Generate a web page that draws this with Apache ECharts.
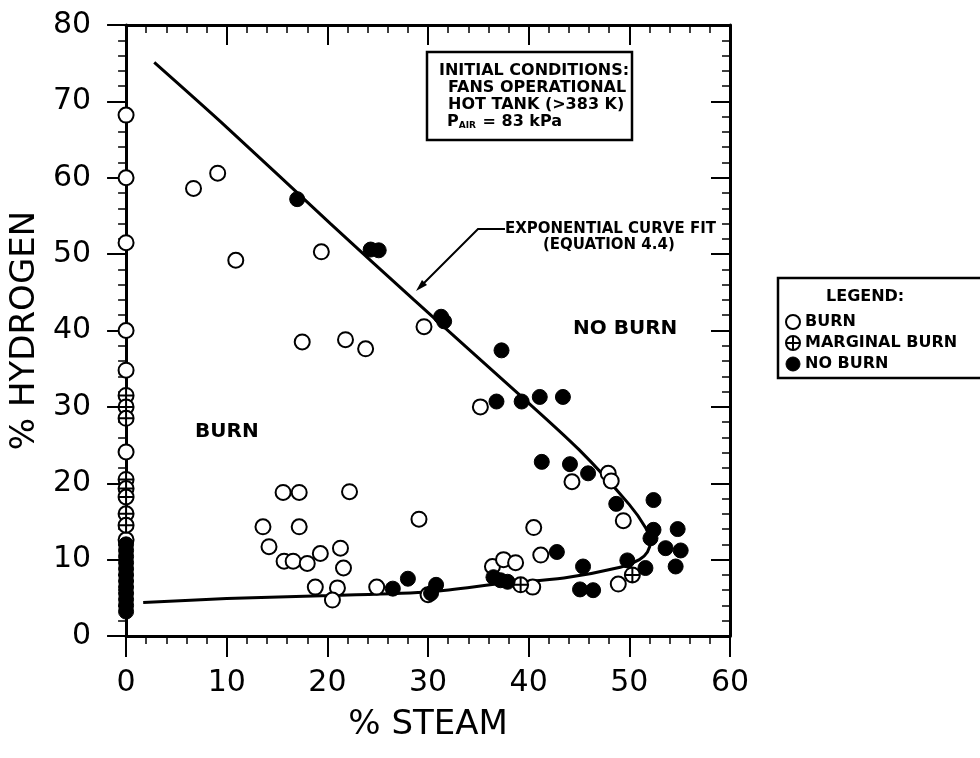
<!DOCTYPE html>
<html>
<head>
<meta charset="utf-8">
<script src="https://cdn.jsdelivr.net/npm/echarts@6/dist/echarts.min.js"></script>
<style>html,body{margin:0;padding:0;background:#fff;}#c{width:980px;height:758px;}</style>
</head>
<body>
<div id="c"></div>
<script>
// ---- data (x = % steam, y = % hydrogen) ----
var xTicks = [0, 10, 20, 30, 40, 50, 60];
var yTicks = [0, 10, 20, 30, 40, 50, 60, 70, 80];

var burnAxisY = [68.2, 60, 51.5, 40, 34.8, 24.1, 12.6];
var marginalAxisY = [31.5, 30, 28.5, 20.5, 19.3, 18.2, 16, 14.5];
var noBurnAxisY = [12, 11.2, 10.4, 9.6, 8.8, 8, 7.2, 6.4, 5.6, 4.8, 4, 3.2];

var burnPts = [[6.7,58.6],[9.1,60.6],[10.9,49.2],[19.4,50.3],[17.5,38.5],[21.8,38.8],[23.8,37.6],
  [29.6,40.5],[35.2,30.0],[15.6,18.8],[17.2,18.8],[22.2,18.9],[13.6,14.3],[17.2,14.3],[14.2,11.7],
  [15.7,9.8],[16.6,9.8],[18.0,9.5],[19.3,10.8],[21.3,11.5],[21.6,8.9],[18.8,6.4],[21.0,6.3],
  [20.5,4.7],[24.9,6.4],[29.1,15.3],[30.0,5.4],[36.4,9.1],[37.5,10.0],[38.7,9.6],[40.4,6.4],
  [40.5,14.2],[41.2,10.6],[44.3,20.2],[47.9,21.3],[48.2,20.3],[49.4,15.1],[48.9,6.8]];
var marginalPts = [[39.2,6.7],[50.3,8.0]];
var noBurnPts = [[17.0,57.2],[24.3,50.6],[25.1,50.5],[31.3,41.8],[31.6,41.2],[37.3,37.4],[36.8,30.7],
  [39.3,30.7],[41.1,31.3],[43.4,31.3],[41.3,22.8],[44.1,22.5],[45.9,21.3],[48.7,17.3],[52.4,17.8],
  [52.4,13.9],[52.1,12.8],[54.8,14.0],[53.6,11.5],[55.1,11.2],[54.6,9.1],[51.6,8.9],[49.8,9.9],
  [45.4,9.1],[45.1,6.1],[46.4,6.0],[42.8,11.0],[37.2,7.3],[36.5,7.7],[37.9,7.1],[30.8,6.7],
  [30.3,5.6],[28.0,7.5],[26.5,6.2]];

var fitCurve = [[2.8,75.1],[10,66.6],[20.3,54.0],[28.6,44.0],[38.9,31.8],[45,24.4],[50,17.2],
  [51.6,14.2],[52.1,12.4],[51.8,11.0],[51.0,10.0],[49.1,9.0],[43.5,7.6],[37.5,6.9],[30.3,5.8],
  [20.3,5.3],[10,4.9],[1.7,4.4]];

function atZero(arr){ return arr.map(function(v){ return [0, v]; }); }

var FONT = 'DejaVu Sans';
var chart = echarts.init(document.getElementById('c'), null, {renderer:'canvas'});

var crossPath = 'path://M10,0A10,10,0,1,1,-10,0A10,10,0,1,1,10,0ZM-10,0L10,0M0,-10L0,10';
var openStyle = {color:'#fff', borderColor:'#000', borderWidth:2, opacity:1};
var fillStyle = {color:'#000', borderColor:'#000', borderWidth:1, opacity:1};

function axisCommon(extra){
  var base = {
    type:'value', min:0,
    axisLine:{show:true, onZero:false, lineStyle:{color:'#000', width:3}},
    splitLine:{show:false},
    minorTick:{show:true, splitNumber:5, length:8, lineStyle:{color:'#000', width:1.5}},
    axisTick:{show:true, length:20, lineStyle:{color:'#000', width:2}}
  };
  for (var k in extra) base[k] = extra[k];
  return base;
}

var option = {
  backgroundColor:'#fff',
  animation:false,
  grid:{left:125, right:250, top:25, bottom:122},
  xAxis:[
    axisCommon({position:'bottom', max:60, interval:10,
      axisTick:{show:true, length:21, lineStyle:{color:'#000', width:2}},
      axisLabel:{fontFamily:FONT, fontSize:30, color:'#000', margin:32},
      name:'% STEAM', nameLocation:'middle', nameGap:72,
      nameTextStyle:{fontFamily:FONT, fontSize:34, color:'#000'}}),
    axisCommon({position:'top', max:60, interval:10,
      axisTick:{show:true, inside:true, length:20, lineStyle:{color:'#000', width:2}},
      minorTick:{show:true, splitNumber:5, length:8, lineStyle:{color:'#000', width:1.5}},
      axisLabel:{show:false}})
  ],
  yAxis:[
    axisCommon({position:'left', max:80, interval:10,
      axisTick:{show:true, length:19, lineStyle:{color:'#000', width:2}},
      axisLabel:{fontFamily:FONT, fontSize:30, color:'#000', margin:35},
      name:'% HYDROGEN', nameLocation:'middle', nameGap:76,
      nameTextStyle:{fontFamily:FONT, fontSize:34, color:'#000'}}),
    axisCommon({position:'right', max:80, interval:10,
      axisTick:{show:true, inside:true, length:19, lineStyle:{color:'#000', width:2}},
      axisLabel:{show:false}})
  ],
  legend:{
    orient:'vertical', left:780, top:309, itemWidth:14, itemHeight:14, itemGap:5,
    textStyle:{fontFamily:FONT, fontSize:16, fontWeight:'bold', color:'#000'},
    data:[
      {name:'BURN', icon:'circle', itemStyle:openStyle},
      {name:'MARGINAL BURN', icon:crossPath, itemStyle:openStyle},
      {name:'NO BURN', icon:'circle', itemStyle:fillStyle}
    ]
  },
  series:[
    {type:'line', name:'fit', data:fitCurve, showSymbol:false, symbol:'none', smooth:0.3,
      lineStyle:{color:'#000', width:3}, silent:true, z:1},
    {type:'scatter', name:'BURN', data:atZero(burnAxisY).concat(burnPts), symbol:'circle',
      symbolSize:15, itemStyle:openStyle, emphasis:{disabled:true}, z:3},
    {type:'scatter', name:'MARGINAL BURN', data:atZero(marginalAxisY).concat(marginalPts), symbol:crossPath,
      symbolSize:15, itemStyle:openStyle, emphasis:{disabled:true}, z:4},
    {type:'scatter', name:'NO BURN', data:atZero(noBurnAxisY).concat(noBurnPts), symbol:'circle',
      symbolSize:15, itemStyle:fillStyle, emphasis:{disabled:true}, z:5}
  ],
  graphic:[
    {type:'rect', shape:{x:427, y:52, width:205, height:88}, style:{fill:'#fff', stroke:'#000', lineWidth:2.5}, z:10},
    {type:'text', left:439, top:63, z:11, style:{text:'INITIAL CONDITIONS:', fontFamily:FONT, fontSize:16, fontWeight:'bold', fill:'#000'}},
    {type:'text', left:448, top:80, z:11, style:{text:'FANS OPERATIONAL', fontFamily:FONT, fontSize:16, fontWeight:'bold', fill:'#000'}},
    {type:'text', left:448, top:97, z:11, style:{text:'HOT TANK (>383 K)', fontFamily:FONT, fontSize:16, fontWeight:'bold', fill:'#000'}},
    {type:'text', left:447, top:114, z:11, style:{
      text:'P{s|AIR} = 83 kPa', fontFamily:FONT, fontSize:16, fontWeight:'bold', fill:'#000',
      rich:{s:{fontSize:9, fontWeight:'bold', fontFamily:FONT, padding:[8,1,0,0]}}}},
    {type:'text', left:505, top:222, z:11, style:{text:'EXPONENTIAL CURVE FIT', fontFamily:FONT, fontSize:15, fontWeight:'bold', fill:'#000'}},
    {type:'text', left:543, top:238, z:11, style:{text:'(EQUATION 4.4)', fontFamily:FONT, fontSize:15, fontWeight:'bold', fill:'#000'}},
    {type:'polyline', shape:{points:[[505,229],[478,229],[422,285]]}, style:{stroke:'#000', lineWidth:2, fill:null}, z:11},
    {type:'polygon', shape:{points:[[416,291],[427,285],[422,280]]}, style:{fill:'#000'}, z:11},
    {type:'text', left:573, top:319, z:11, style:{text:'NO BURN', fontFamily:FONT, fontSize:20, fontWeight:'bold', fill:'#000'}},
    {type:'text', left:195, top:422, z:11, style:{text:'BURN', fontFamily:FONT, fontSize:20, fontWeight:'bold', fill:'#000'}},
    {type:'rect', shape:{x:778, y:278, width:215, height:100}, style:{fill:null, stroke:'#000', lineWidth:2.5}, z:10},
    {type:'text', left:826, top:289, z:11, style:{text:'LEGEND:', fontFamily:FONT, fontSize:16, fontWeight:'bold', fill:'#000'}}
  ]
};
chart.setOption(option);
</script>
</body>
</html>
